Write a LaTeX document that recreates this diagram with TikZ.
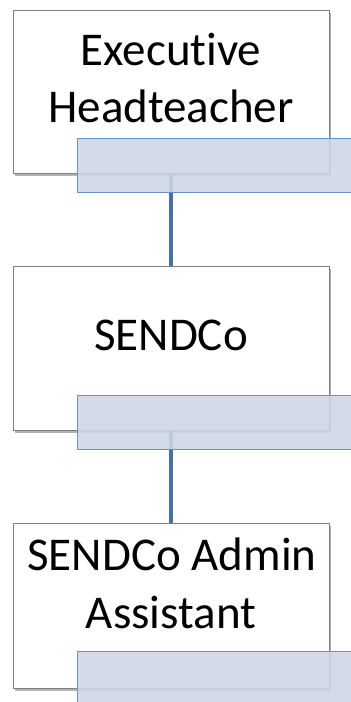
\documentclass[tikz,border=0pt]{standalone}
\usepackage{fontspec}
\setmainfont[Ligatures=NoCommon]{Carlito}
\usetikzlibrary{shadows}
\definecolor{boxline}{HTML}{7F7F7F}
\definecolor{tagfill}{HTML}{CDD6E6}
\definecolor{tagline}{HTML}{6890CC}
\definecolor{linkblue}{HTML}{4570AA}
\tikzset{
  x=1pt, y=-1pt,
  rolebox/.style={draw=boxline, line width=0.9pt, fill=white,
    drop shadow={shadow xshift=1.2pt, shadow yshift=-2.5pt, opacity=0.55, fill=black!55},
    minimum width=316pt, anchor=north west, inner sep=0pt},
  tagbox/.style={draw=tagline, line width=1.2pt, fill=tagfill, fill opacity=0.88,
    minimum width=280pt, minimum height=54pt, anchor=north west, inner sep=0pt},
  link/.style={draw=linkblue, line width=3.4pt},
  roletext/.style={font=\fontsize{47}{57}\selectfont, align=center, anchor=base, inner sep=0pt}
}
\begin{document}
\begin{tikzpicture}
\useasboundingbox (0,0) rectangle (351,702);
% role boxes
\node[rolebox, minimum height=163pt] (b1) at (13,10) {};
\node[rolebox, minimum height=164pt] (b2) at (13,266) {};
\node[rolebox, minimum height=165pt] (b3) at (13,523) {};
% connectors between roles
\draw[link] (b1.south -| 171,0) -- (b2.north -| 171,0);
\draw[link] (b2.south -| 171,0) -- (b3.north -| 171,0);
% labels
\node[roletext] (t1a) at (171,65.5) {Executive};
\node[roletext] (t1b) at (171,122) {Headteacher};
\node[roletext] (t2) at (171,350) {SENDCo};
\node[roletext] (t3a) at (172,570) {SENDCo Admin};
\node[roletext] (t3b) at (171,628) {Assistant};
% text tabs
\node[tagbox] (g1) at (77,138) {};
\node[tagbox] (g2) at (77,395) {};
\node[tagbox] (g3) at (77,651) {};
\end{tikzpicture}
\end{document}
